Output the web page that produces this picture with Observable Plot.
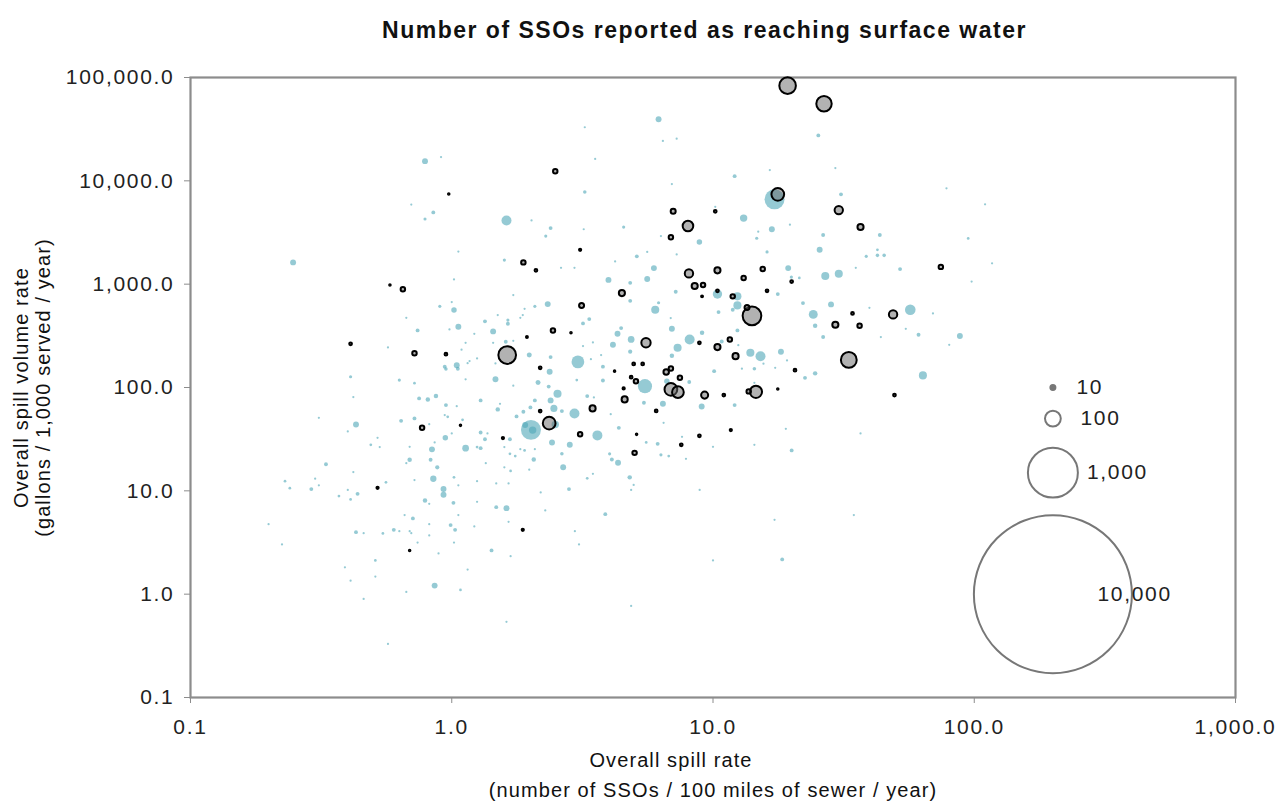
<!DOCTYPE html>
<html>
<head>
<meta charset="utf-8">
<script src="https://cdn.jsdelivr.net/npm/d3@7"></script>
<script src="https://cdn.jsdelivr.net/npm/@observablehq/plot@0.6"></script>
<style>
  html, body { margin: 0; padding: 0; background: #fff; }
  #title { height: 60px; line-height: 60px; width: 1283px; box-sizing: border-box; padding-left: 126px;
    text-align: center; font-family: "Liberation Sans", Arial, Helvetica, sans-serif; font-size: 23px; font-weight: 700;
    letter-spacing: 1.5px; color: #111; }
  svg [aria-label="x-axis tick label"] text,
  svg [aria-label="y-axis tick label"] text,
  svg [aria-description="legend label"] text { letter-spacing: 1.7px; }
  svg [aria-description="axis title"] text { letter-spacing: 1.1px; }
</style>
</head>
<body>
<div id="title">Number of SSOs reported as reaching surface water</div>
<div id="chart"></div>
<script>
// [overall spill rate, overall spill volume rate, number of SSOs reaching surface water]
const blueSystems = [
[0.79,15500,14],[0.91,17000,2],[0.70,5900,2],[0.85,4950,6],[0.79,4270,4],[1.62,4140,40],[2.02,4140,2],[1.06,2070,2],[1.59,1710,4],[0.247,1625,14],[1.02,1110,2],
[6.19,39400,14],[3.23,33000,2],[25.3,27500,6],[6.43,24300,2],[7.26,25600,2],[3.54,16300,2],[16.5,12700,2],[29.4,13300,2],[12.1,11100,6],[6.96,9310,2],[3.23,7800,5],[17.2,6620,160],[78.3,8460,2],[30.9,7400,6],[10.2,5610,2],[13.1,4360,22],[16.8,3400,14],[19.7,3760,2],[14.9,3220,2],[14.7,2780,4],[2.39,3490,6],[2.29,2920,4],[3.2,3400,2],[4.55,3570,4],[6.32,2920,2],[8.87,2560,12],[26.4,2990,6],[43.5,2990,6],[25.6,2150,14],[5.6,2050,2],[7.26,1940,2],[4.22,1660,2],[5.11,1860,6],[16.1,2050,4],[38.6,1860,4],[42.6,2150,3],[42.6,1900,5],[45.2,1900,5],[5.94,1430,14],[2.62,1440,2],[2.95,1440,2],[19.4,1430,14],[19.95,1170,4],[21.4,1150,3],[35.2,1440,2],[52,1400,6],[26.9,1200,26],[30.3,1260,26],[3.98,1100,14],[5.6,1120,14],
[1.72,784,2],[0.90,610,4],[1.0,671,2],[1.02,561,12],[0.67,473,2],[2.08,610,4],[1.9,578,2],[1.87,502,2],[1.83,473,2],[1.34,437,6],[1.5,502,2],[1.64,449,4],[1.64,414,6],[1.06,387,14],[0.74,357,6],[0.98,365,2],[1.44,349,14],[1.22,331,2],[0.57,244,2],[1.13,271,2],[1.09,232,2],[1.61,277,6],[1.44,271,2],[1.72,283,2],[1.98,206,10],[0.94,159,6],[0.95,151,5],[1.045,164,14],[1.055,152,6],[1.15,172,2],[1.17,180,2],[1.25,191,2],[1.47,171,2],[1.47,120,14],[1.13,120,2],[1.72,104,2],[2.14,112,10],[0.41,127,4],[0.63,118,4],[0.72,110,3],[0.42,80.7,2],[0.75,78.4,6],[0.81,76.7,8],[0.87,82.6,8],[1.29,75,6],[0.95,67.6,6],[1.045,66,2],[1.53,69.5,2],[1.5,61.4,8],[2.08,75,6],[2.0,64.2,6],[1.88,58.2,6],[1.77,52.5,6],[0.31,50.9,2],[0.64,47.6,6],[0.72,50.2,6],[0.94,54.1,2],[0.965,52,3],[1.1,48.7,3],[0.82,44.2,2],[0.43,43.9,14],[2.01,38.9,160],[1.91,43.3,14],[2.04,38.7,22],[0.40,37.6,2],[1.29,36.7,6],[1.37,35.9,2],[1.0,35.9,2],[0.945,32.6,12],[1.34,31.6,6],[1.67,31.6,6],[0.52,32.6,2],[0.53,26.5,2],[0.49,27.9,3],[0.69,26.7,2],[0.84,25.2,14],[1.13,25.9,18],[0.86,29.4,2],[1.25,26.5,3],[1.29,25.9,6],[1.59,26.5,2],[1.83,25.3,2],[1.9,24.6,3],[2.08,25.3,2],[1.67,22.8,3],[1.75,21.7,3],[0.69,20,8],[0.83,20,6],[0.88,16.9,7],[0.67,18.5,2],[0.33,18.1,6],[2.06,20.1,8],[1.35,18.5,2],[1.59,16.9,2],[1.68,15.6,3],[1.98,16,2],[0.42,15.2,2],[0.85,13.1,16],[1.02,13.5,3],[0.72,12.7,2],[0.56,12.1,3],[1.25,12.4,2],[1.48,11.8,2],[1.65,11.8,2],[0.23,12.4,3],[0.24,10.6,3],[0.30,13.1,2],[0.31,11.3,2],[0.29,10.4,6],[0.93,10.4,14],[0.40,10.2,2],[1.06,11.3,2],
[4.82,1030,6],[10.4,802,35],[12.4,762,26],[17.7,802,6],[7.2,844,6],[2.33,641,14],[4.82,690,6],[6.19,661,4],[12.4,623,26],[10.5,537,6],[11.9,565,6],[22.1,656,6],[28.3,637,14],[24.2,510,32],[24.6,395,8],[56.9,565,45],[69.5,521,2],[26.4,308,6],[39.7,591,2],[54.7,370,2],[61.2,324,6],[43.9,308,2],[80.2,259,2],[88.1,315,14],[63.6,131,26],[36.7,35.9,2],[20,24.6,6],[22.5,124,6],[24.6,137,8],[14.4,111,2],[18.2,222,14],[13.9,217,26],[15.2,201,40],[12.4,357,6],[10.8,279,6],[12.5,257,2],[14.4,152,5],[15.6,170,2],[17.3,155,2],[19.2,183,2],[12.9,152,2],[10.1,144,6],[8.14,292,40],[9.08,339,8],[6.96,370,14],[6.89,470,2],[6.01,565,26],[4.86,292,18],[4.45,376,6],[4.31,331,14],[4.14,259,14],[3.47,273,2],[3.36,459,6],[3.18,417,6],[7.32,242,26],[6.96,203,8],[4.82,222,7],[3.73,206,2],[3.04,177,65],[3.41,188,2],[3.18,252,2],[2.39,197,6],[2.37,142,14],[2.35,102,6],[3.79,159,6],[3.79,117,6],[3.01,118,3],[5.49,103,80],[6.66,115,12],[8.11,113,6],[9.05,65.6,14],[12.1,67.6,6],[6.43,69.5,14],[5.44,71.1,6],[3.3,82.6,6],[3.5,80.2,2],[2.95,56.1,40],[2.54,86.9,26],[2.39,75,14],[2.46,62.8,20],[2.64,59.1,6],[2.49,43.9,22],[3.61,34.4,40],[2.83,27.9,14],[2.42,29.4,14],[2.64,22.8,5],[2.67,16.9,14],[4.36,40.7,6],[4.1,20.1,6],[4.33,18.7,14],[4.02,22.8,4],[6.14,28.5,6],[5.55,29.4,3],[7.61,33.3,2],[6.32,22.3,4],[6.77,21.7,3],[7.88,20.4,2],[4.8,13.5,8],[10,26.7,2],[14.4,27.9,2],[6.47,45.5,2],[4.06,55.2,2],[19,39.8,2],[3.47,14.6,2],[3.3,13.2,3],[4.97,11.4,2],[8.89,10.2,2],
[0.37,8.89,3],[0.436,9.35,6],[0.41,8.26,3],[0.79,8.07,8],[0.93,9.15,14],[0.82,7.48,2],[1.015,7.65,6],[1.25,7.83,2],[1.48,6.95,6],[1.62,6.8,14],[1.65,5.01,2],[2.19,9.66,2],[2.28,6.46,2],[2.81,10.4,6],[0.71,5.41,6],[0.66,5.82,2],[1.06,5.82,2],[0.99,4.66,6],[1.03,4.19,6],[0.82,4.76,2],[1.22,4.52,2],[0.60,4.19,6],[0.63,4.07,2],[0.69,4.07,2],[0.70,3.89,2],[0.545,3.87,3],[0.43,3.98,6],[0.46,3.89,2],[0.82,3.7,2],[0.199,4.76,2],[0.224,3.03,2],[0.74,3.16,2],[1.02,3.16,2],[1.42,2.65,6],[0.89,2.48,2],[1.68,2.33,2],[2.96,4.07,2],[3.07,3.03,2],[0.51,2.12,3],[0.39,1.82,2],[1.15,1.73,2],[0.51,1.48,2],[0.41,1.35,2],[0.86,1.21,14],[0.67,1.05,2],[1.08,1.1,3],[0.46,0.90,2],[1.62,0.54,2],[0.57,0.33,2],
[4.86,10.2,2],[3.87,5.95,6],[17.2,5.24,2],[34.6,5.82,2],[10,2.12,2],[18.4,2.17,6],[4.86,0.77,2],[110,5920,2],[94.8,2770,3],[117,1590,2],[97.7,1060,2]
];

const graySystems = [
[0.974,7450,1],[1.88,1625,8],[2.1,1360,3],[19.3,83400,110],[26.6,55700,95],[2.49,12400,8],[17.7,7400,65],[30.3,5210,28],[7.04,5070,10],[10.2,5070,3],[36.7,3570,15],[8.02,3650,45],[6.9,2840,8],[3.1,2150,2],[8.09,1270,28],[10.4,1360,15],[13.1,1150,8],[15.5,1400,8],[74.5,1470,8],
[0.58,980,1],[0.65,891,8],[0.41,265,3],[0.72,215,8],[0.95,210,3],[1.94,308,1.5],[1.63,206,125],[2.18,155,3],[2.18,59.1,3],[0.77,40.7,8],[1.08,43,1],[1.57,32.4,2],[0.52,10.7,2],
[20,1060,3],[4.48,820,15],[8.51,959,15],[9.16,980,8],[10.4,863,3],[11.9,762,8],[16.1,863,3],[3.14,623,10],[9.08,762,1.5],[14.1,494,140],[13.5,596,10],[34.2,521,3],[29.4,405,15],[36.4,395,8],[48.9,510,28],[49.5,84.4,3],[33.1,185,100],[20.6,147,3],[17.7,96.6,1],[14.6,90.8,60],[13.7,91.7,8],[12.2,201,15],[11.6,292,8],[10.4,246,15],[8.87,271,3],[5.54,271,35],[2.44,357,8],[2.86,339,1],[4.97,169,3],[5.38,169,3],[5.07,115,8],[4.86,126,3],[4.2,144,1],[4.55,98,2],[4.59,76.7,15],[6.9,95.9,65],[7.34,90.2,55],[6.62,141,12],[6.9,153,8],[7.47,124,8],[9.29,84.4,20],[11,84.4,3],[6.06,59.4,3],[3.46,62.8,15],[2.36,45.2,65],[3.1,35.2,8],[5.01,23.3,8],[7.56,27.9,3],[8.87,34.1,3],[11.7,38.7,2],[5.1,35.2,1],
[1.87,4.19,2],[0.69,2.65,1]
];

const xTicks = [0.1, 1, 10, 100, 1000];
const yTicks = [0.1, 1, 10, 100, 1000, 10000, 100000];
const legendValues = [10, 100, 1000, 10000];
const legendLabels = ["10", "100", "1,000", "10,000"];

// layout (not data)
const legendX = 200;
const legendDotY = [100, 50, 15, 1];
const legendLabelX = [246, 255, 270, 296];

const font = '"Liberation Sans", Arial, Helvetica, sans-serif';
const fmt = d3.format(",.1f");

const chart = Plot.plot({
  width: 1283,
  height: 743,
  marginTop: 17,
  marginBottom: 106,
  marginLeft: 190,
  marginRight: 48,
  style: {fontFamily: font, fontSize: "21px", color: "#222", background: "#fff"},
  x: {type: "log", domain: [0.1, 1000]},
  y: {type: "log", domain: [0.1, 100000]},
  r: {type: "sqrt", domain: [0, 10000], range: [0, 79]},
  marks: [
    Plot.axisX({ticks: xTicks, tickFormat: fmt, tickSize: 6, tickPadding: 16, stroke: "#8c8c8c", fill: "#222", fontSize: 21, label: null}),
    Plot.axisY({ticks: yTicks, tickFormat: fmt, tickSize: 6, tickPadding: 10, stroke: "#8c8c8c", fill: "#222", fontSize: 21, label: null}),
    Plot.frame({stroke: "#8c8c8c", strokeWidth: 2.2}),
    Plot.dot(blueSystems, {x: d => d[0], y: d => d[1], r: d => d[2], fill: "#4fa6b8", fillOpacity: 0.6, stroke: "none"}),
    Plot.dot(graySystems, {x: d => d[0], y: d => d[1], r: d => d[2], fill: "#666", fillOpacity: 0.5, stroke: "#000", strokeWidth: 2}),
    Plot.dot(legendValues, {x: () => legendX, y: (d, i) => legendDotY[i], r: d => d, fill: d => d < 50 ? "#777" : "none", stroke: "#777", strokeWidth: 2}),
    Plot.text(legendLabels, {x: (d, i) => legendLabelX[i], y: (d, i) => legendDotY[i], text: d => d, textAnchor: "start", fontSize: 21, fill: "#222", ariaDescription: "legend label"}),
    Plot.text(["Overall spill rate"], {frameAnchor: "bottom", text: d => d, dy: 63, dx: -42, textAnchor: "middle", lineAnchor: "middle", fontSize: 20, fill: "#111", ariaDescription: "axis title"}),
    Plot.text(["(number of SSOs / 100 miles of sewer / year)"], {frameAnchor: "bottom", text: d => d, dy: 93, textAnchor: "middle", lineAnchor: "middle", fontSize: 20, fill: "#111", ariaDescription: "axis title"}),
    Plot.text(["Overall spill volume rate\n(gallons / 1,000 served / year)"], {frameAnchor: "left", text: d => d, rotate: -90, dx: -159, textAnchor: "middle", lineAnchor: "middle", lineHeight: 1.1, fontSize: 20, fill: "#111", ariaDescription: "axis title"})
  ]
});
document.getElementById("chart").appendChild(chart);
</script>
</body>
</html>
